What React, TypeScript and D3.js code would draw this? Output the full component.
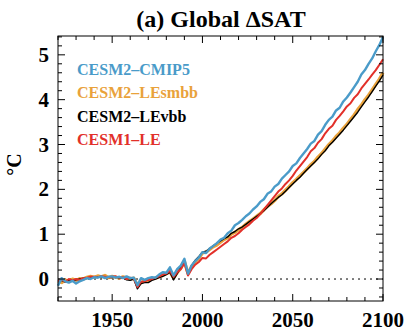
import React, { useEffect, useRef } from 'react';
import * as d3 from 'd3';

// years 1920..2100, every 2 years
const years: number[] = d3.range(1920, 2101, 2);

const cmip5 = [
  -0.15, 0.02, -0.05, -0.08, -0.04, -0.10, -0.05, -0.02, 0.02, 0.00,
  0.04, 0.03, 0.06, 0.02, 0.05, 0.06, 0.03, 0.05, 0.02, 0.06,
  0.02, 0.03, -0.14, 0.02, -0.02, 0.02, 0.04, 0.03, 0.10, 0.15,
  0.14, 0.26, 0.08, 0.22, 0.30, 0.45, 0.12, 0.30, 0.40, 0.48,
  0.60, 0.58, 0.68, 0.74, 0.80, 0.88, 0.92, 1.02, 1.08, 1.20,
  1.25, 1.32, 1.40, 1.46, 1.55, 1.62, 1.72, 1.78, 1.90, 1.95,
  2.06, 2.12, 2.24, 2.32, 2.40, 2.52, 2.58, 2.70, 2.80, 2.90,
  3.02, 3.08, 3.22, 3.30, 3.44, 3.55, 3.62, 3.76, 3.82, 3.96,
  4.05, 4.16, 4.28, 4.40, 4.56, 4.66, 4.80, 4.92, 5.08, 5.22,
  5.40,
];

const lesmbb = [
  -0.05, -0.08, -0.02, -0.05, 0.00, -0.03, 0.01, 0.00, 0.04, 0.06,
  0.04, 0.07, 0.05, 0.08, 0.03, 0.06, 0.04, 0.02, 0.05, 0.03,
  0.00, 0.02, -0.14, -0.08, -0.04, -0.04, 0.00, 0.02, 0.05, 0.08,
  0.12, 0.16, 0.02, 0.14, 0.24, 0.40, 0.12, 0.28, 0.38, 0.46,
  0.58, 0.60, 0.66, 0.72, 0.76, 0.82, 0.88, 0.92, 1.00, 1.04,
  1.10, 1.15, 1.22, 1.28, 1.34, 1.40, 1.46, 1.54, 1.62, 1.68,
  1.75, 1.84, 1.90, 1.98, 2.06, 2.15, 2.22, 2.30, 2.38, 2.46,
  2.55, 2.62, 2.72, 2.80, 2.90, 3.00, 3.08, 3.18, 3.26, 3.36,
  3.45, 3.56, 3.66, 3.78, 3.88, 4.00, 4.10, 4.22, 4.34, 4.46,
  4.60,
];

const levbb = [
  -0.06, -0.03, -0.07, -0.02, -0.04, -0.02, 0.00, 0.02, 0.01, 0.04,
  0.04, 0.05, 0.03, 0.05, 0.04, 0.03, 0.05, 0.02, 0.03, -0.02,
  -0.03, 0.00, -0.22, -0.10, -0.08, -0.08, -0.03, 0.00, 0.03, 0.06,
  0.10, 0.15, -0.02, 0.12, 0.26, 0.42, 0.10, 0.30, 0.42, 0.50,
  0.60, 0.62, 0.68, 0.74, 0.80, 0.85, 0.90, 0.94, 1.02, 1.06,
  1.12, 1.16, 1.22, 1.28, 1.34, 1.40, 1.46, 1.52, 1.60, 1.68,
  1.75, 1.82, 1.88, 1.96, 2.04, 2.12, 2.20, 2.27, 2.36, 2.44,
  2.52, 2.60, 2.68, 2.78, 2.86, 2.97, 3.05, 3.14, 3.23, 3.32,
  3.42, 3.52, 3.62, 3.72, 3.84, 3.95, 4.06, 4.18, 4.30, 4.42,
  4.55,
];

const cesm1le = [
  -0.05, -0.02, -0.06, 0.00, -0.03, 0.00, -0.02, 0.02, 0.03, 0.05,
  0.05, 0.04, 0.06, 0.05, 0.04, 0.05, 0.06, 0.03, 0.04, 0.00,
  0.03, 0.01, -0.18, -0.06, -0.05, -0.02, 0.00, 0.03, 0.06, 0.10,
  0.12, 0.18, 0.05, 0.15, 0.22, 0.35, 0.08, 0.22, 0.32, 0.38,
  0.47, 0.46, 0.54, 0.60, 0.66, 0.72, 0.78, 0.84, 0.92, 0.96,
  1.02, 1.10, 1.16, 1.22, 1.30, 1.36, 1.45, 1.55, 1.65, 1.75,
  1.85, 1.95, 2.02, 2.12, 2.20, 2.30, 2.42, 2.52, 2.62, 2.72,
  2.85, 2.92, 3.04, 3.12, 3.25, 3.35, 3.42, 3.55, 3.64, 3.74,
  3.85, 3.92, 4.04, 4.12, 4.25, 4.35, 4.45, 4.56, 4.66, 4.78,
  4.90,
];

const seriesNames = ['CESM2\u2013CMIP5', 'CESM2\u2013LEsmbb', 'CESM2\u2013LEvbb', 'CESM1\u2013LE'];
const seriesColors = ['#4a9bc9', '#e9a23b', '#000000', '#e2302a'];
const xTickLabels = [1950, 2000, 2050, 2100];
const yTickLabels = [0, 1, 2, 3, 4, 5];

const W = 406;
const H = 335;
const m = { left: 58, right: 383, top: 36, bottom: 301 };
const FONT = '"Liberation Serif"';

export default function App() {
  const svgRef = useRef<SVGSVGElement>(null);

  useEffect(() => {
    if (!svgRef.current) return;
    const svg = d3.select(svgRef.current);
    svg.selectAll('*').remove();

    const x = d3.scaleLinear().domain([1920, 2100]).range([m.left, m.right]);
    const y = d3.scaleLinear().domain([-0.49, 5.42]).range([m.bottom, m.top]);

    // title
    svg.append('text')
      .attr('x', 221)
      .attr('y', 27)
      .attr('text-anchor', 'middle')
      .style('font-family', FONT)
      .style('font-weight', 'bold')
      .style('font-size', '24px')
      .text('(a) Global ΔSAT');

    // dotted zero line
    svg.append('line')
      .attr('x1', m.left).attr('x2', m.right)
      .attr('y1', y(0)).attr('y2', y(0))
      .attr('stroke', '#000')
      .attr('stroke-dasharray', '2,4');

    const line = d3.line<number>()
      .x((_, i) => x(years[i]))
      .y(d => y(d));

    // orange (wide) underneath, then black, red, blue on top
    const drawOrder = [
      { data: lesmbb, color: seriesColors[1], width: 3.2 },
      { data: levbb, color: seriesColors[2], width: 1.4 },
      { data: cesm1le, color: seriesColors[3], width: 2 },
      { data: cmip5, color: seriesColors[0], width: 2.4 },
    ];
    drawOrder.forEach(s => {
      svg.append('path')
        .datum(s.data)
        .attr('d', line)
        .attr('fill', 'none')
        .attr('stroke', s.color)
        .attr('stroke-width', s.width)
        .attr('stroke-linejoin', 'round');
    });

    // frame
    svg.append('rect')
      .attr('x', m.left).attr('y', m.top)
      .attr('width', m.right - m.left).attr('height', m.bottom - m.top)
      .attr('fill', 'none')
      .attr('stroke', '#000');

    // x ticks (inward, top and bottom)
    d3.range(1920, 2101, 10).forEach(v => {
      const len = v % 50 === 0 ? 7 : 4;
      svg.append('line').attr('x1', x(v)).attr('x2', x(v)).attr('y1', m.bottom).attr('y2', m.bottom - len).attr('stroke', '#000');
      svg.append('line').attr('x1', x(v)).attr('x2', x(v)).attr('y1', m.top).attr('y2', m.top + len).attr('stroke', '#000');
    });
    xTickLabels.forEach(v => {
      svg.append('text')
        .attr('x', x(v))
        .attr('y', 327)
        .attr('text-anchor', 'middle')
        .style('font-family', FONT)
        .style('font-weight', 'bold')
        .style('font-size', '21px')
        .text(v);
    });

    // y ticks (inward, left and right)
    d3.range(-0.4, 5.41, 0.2).map(v => Math.round(v * 10) / 10).forEach(v => {
      const len = Number.isInteger(v) ? 7 : 4;
      svg.append('line').attr('x1', m.left).attr('x2', m.left + len).attr('y1', y(v)).attr('y2', y(v)).attr('stroke', '#000');
      svg.append('line').attr('x1', m.right).attr('x2', m.right - len).attr('y1', y(v)).attr('y2', y(v)).attr('stroke', '#000');
    });
    yTickLabels.forEach(v => {
      svg.append('text')
        .attr('x', 49)
        .attr('y', y(v) + 7)
        .attr('text-anchor', 'end')
        .style('font-family', FONT)
        .style('font-weight', 'bold')
        .style('font-size', '21px')
        .text(v);
    });

    // y label
    svg.append('text')
      .attr('transform', `translate(21, ${(m.top + m.bottom) / 2 - 4}) rotate(-90)`)
      .attr('text-anchor', 'middle')
      .style('font-family', FONT)
      .style('font-weight', 'bold')
      .style('font-size', '20px')
      .text('°C');

    // legend
    seriesNames.forEach((name, i) => {
      svg.append('text')
        .attr('x', 77)
        .attr('y', 75 + i * 23.3)
        .attr('fill', seriesColors[i])
        .style('font-family', FONT)
        .style('font-weight', 'bold')
        .style('font-size', '16px')
        .text(name);
    });
  }, []);

  return (
    <svg
      ref={svgRef}
      width={W}
      height={H}
      style={{ position: 'absolute', left: 0, top: 0, background: '#fff' }}
    />
  );
}
